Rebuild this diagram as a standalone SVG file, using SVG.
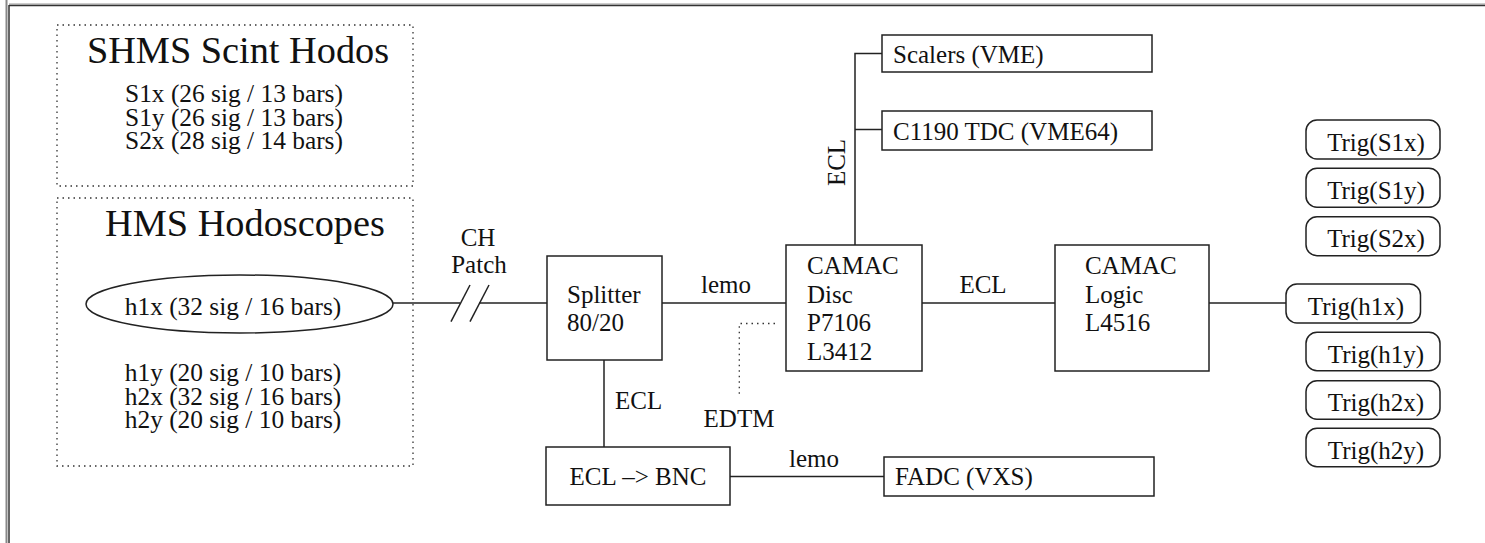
<svg xmlns="http://www.w3.org/2000/svg" width="1485" height="543" viewBox="0 0 1485 543">
<style>
text{font-family:"Liberation Serif","Times New Roman",serif;font-size:25px;fill:#111}
.big{font-size:38.3px}
.sub{font-size:25.4px}
.mid{text-anchor:middle}
.box{fill:none;stroke:#222;stroke-width:1.5}
.dot{fill:none;stroke:#333;stroke-width:1.3;stroke-dasharray:1.5 4}
.ln{fill:none;stroke:#222;stroke-width:1.5}
</style>
<rect width="1485" height="543" fill="#fff"/>
<g id="frame">
<line x1="6.5" y1="0" x2="6.5" y2="543" stroke="#888" stroke-width="2"/>
<line x1="9" y1="5" x2="9" y2="543" stroke="#333" stroke-width="1.5"/>
<line x1="9" y1="4" x2="1485" y2="4" stroke="#999" stroke-width="1"/>
<line x1="9" y1="5.5" x2="1485" y2="5.5" stroke="#333" stroke-width="1.5"/>
</g>
<g id="shms">
<rect class="dot" x="57" y="25" width="356" height="161"/>
<text class="big mid" x="238" y="63">SHMS Scint Hodos</text>
<text class="sub mid" x="234" y="102">S1x (26 sig / 13 bars)</text>
<text class="sub mid" x="234" y="125.5">S1y (26 sig / 13 bars)</text>
<text class="sub mid" x="234" y="149">S2x (28 sig / 14 bars)</text>
</g>
<g id="hms">
<rect class="dot" x="57" y="198" width="356" height="268"/>
<text class="big mid" x="245" y="235.5">HMS Hodoscopes</text>
<text class="sub mid" x="233" y="381">h1y (20 sig / 10 bars)</text>
<text class="sub mid" x="233" y="404.5">h2x (32 sig / 16 bars)</text>
<text class="sub mid" x="233" y="428">h2y (20 sig / 10 bars)</text>
</g>
<g id="h1x">
<ellipse class="box" cx="239.5" cy="304" rx="153.5" ry="29"/>
<text class="sub mid" x="233" y="315">h1x (32 sig / 16 bars)</text>
</g>
<g id="connectors">
<line class="ln" x1="393" y1="303" x2="460" y2="303"/>
<line class="ln" x1="479" y1="303" x2="547" y2="303"/>
<line class="ln" x1="451" y1="321.7" x2="470" y2="285"/>
<line class="ln" x1="470" y1="321.7" x2="489" y2="285"/>
<line class="ln" x1="662" y1="303" x2="786" y2="303"/>
<line class="ln" x1="922" y1="303" x2="1055" y2="303"/>
<line class="ln" x1="1209" y1="303" x2="1286" y2="303"/>
<polyline class="ln" points="882,53.5 855,53.5 855,245"/>
<line class="ln" x1="855" y1="129.5" x2="882" y2="129.5"/>
<line class="ln" x1="604" y1="360" x2="604" y2="447"/>
<line class="ln" x1="730" y1="476.5" x2="884" y2="476.5"/>
<polyline class="dot" points="775,323.5 739.3,323.5 739.3,397"/>
<text class="mid" x="478" y="246">CH</text>
<text class="mid" x="479" y="273">Patch</text>
<text class="mid" x="726" y="293">lemo</text>
<text class="mid" x="983" y="293">ECL</text>
<text class="mid" x="845" y="162.5" transform="rotate(-90 845 162.5)">ECL</text>
<text x="615" y="409">ECL</text>
<text class="mid" x="739" y="427">EDTM</text>
<text class="mid" x="814" y="467">lemo</text>
</g>
<g id="splitter">
<rect class="box" x="547" y="256" width="115" height="104"/>
<text x="567" y="303">Splitter</text>
<text x="567" y="331">80/20</text>
</g>
<g id="disc">
<rect class="box" x="786" y="245" width="136" height="126"/>
<text x="807" y="274">CAMAC</text>
<text x="807" y="302.7">Disc</text>
<text x="807" y="331">P7106</text>
<text x="807" y="359.5">L3412</text>
</g>
<g id="logic">
<rect class="box" x="1055" y="245" width="154" height="126"/>
<text x="1085" y="274">CAMAC</text>
<text x="1085" y="302.7">Logic</text>
<text x="1085" y="331">L4516</text>
</g>
<g id="scalers">
<rect class="box" x="882" y="35" width="270" height="37"/>
<text x="893" y="63">Scalers (VME)</text>
</g>
<g id="tdc">
<rect class="box" x="882" y="111" width="270" height="39"/>
<text x="893" y="140">C1190 TDC (VME64)</text>
</g>
<g id="eclbnc">
<rect class="box" x="546" y="447" width="184" height="58"/>
<text class="mid" x="638" y="485">ECL –&gt; BNC</text>
</g>
<g id="fadc">
<rect class="box" x="884" y="457" width="270" height="39"/>
<text x="895" y="485">FADC (VXS)</text>
</g>
<g id="trigS1x"><rect class="box" x="1306" y="120" width="134" height="39" rx="11"/><text class="mid" x="1376" y="150.5">Trig(S1x)</text></g>
<g id="trigS1y"><rect class="box" x="1306" y="168.3" width="134" height="39" rx="11"/><text class="mid" x="1376" y="198.8">Trig(S1y)</text></g>
<g id="trigS2x"><rect class="box" x="1306" y="216.7" width="134" height="39" rx="11"/><text class="mid" x="1376" y="247.2">Trig(S2x)</text></g>
<g id="trigh1x"><rect class="box" x="1286" y="284" width="134.5" height="39" rx="11"/><text class="mid" x="1356" y="314.5">Trig(h1x)</text></g>
<g id="trigh1y"><rect class="box" x="1306" y="332.3" width="134" height="38.5" rx="11"/><text class="mid" x="1376" y="362.5">Trig(h1y)</text></g>
<g id="trigh2x"><rect class="box" x="1306" y="380.7" width="134" height="38.5" rx="11"/><text class="mid" x="1376" y="410.8">Trig(h2x)</text></g>
<g id="trigh2y"><rect class="box" x="1306" y="428.3" width="134" height="38.5" rx="11"/><text class="mid" x="1376" y="458.5">Trig(h2y)</text></g>
</svg>
